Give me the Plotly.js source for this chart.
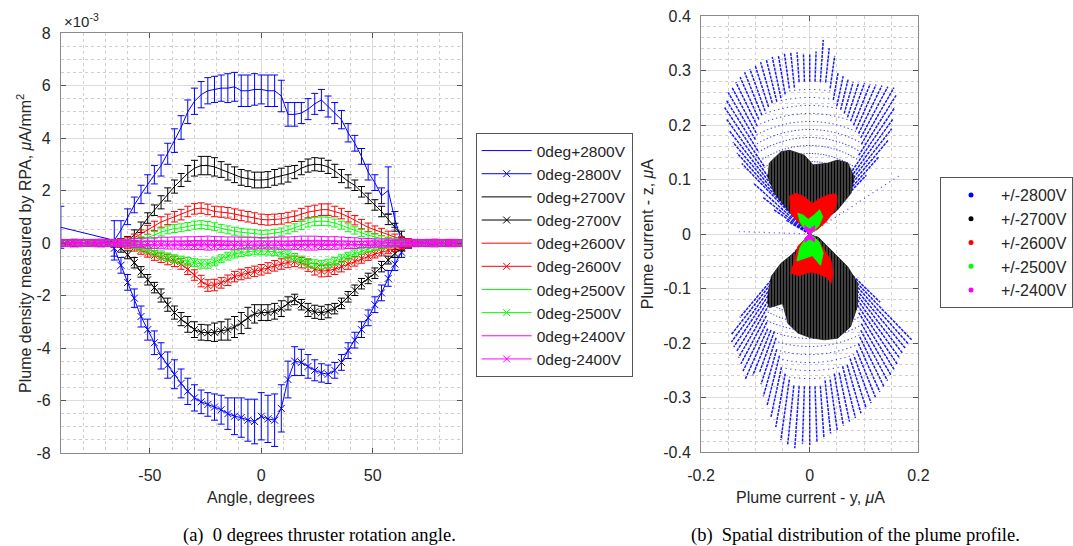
<!DOCTYPE html>
<html><head><meta charset="utf-8">
<script src="https://cdn.plot.ly/plotly-3.0.1.min.js"></script>
<style>html,body{margin:0;padding:0;background:#fff}#chart{width:1073px;height:546px}</style>
</head><body><div id="chart"></div>
<script>
// ---------------- Left panel data (values in units of 1e-3 uA/mm^2) ----------------
const angleDeg = [-90,-87,-84,-81,-78,-75,-72,-69,
  -66,-63,-60,-57,-54,-51,-48,-45,-42,-39,
  -36,-33,-30,-27,-24,-21,-18,-15,-12,-9,
  -6,-3,0,3,6,9,12,15,18,21,
  24,27,30,33,36,39,42,45,48,51,
  54,57,60,63,66,
  69,72,75,78,81,84,87,90];

const seriesNames = ['0deg+2800V','0deg-2800V','0deg+2700V','0deg-2700V','0deg+2600V','0deg-2600V','0deg+2500V','0deg-2500V','0deg+2400V','0deg-2400V'];

const pos2800 = [0.6,null,null,null,null,null,null,null,
  0.1,0.5,1.0,1.45,1.85,2.25,2.6,2.95,3.4,3.9,
  4.4,5.0,5.4,5.65,5.8,5.85,5.9,5.9,5.95,5.8,
  5.8,5.85,5.85,5.8,5.8,5.6,4.9,4.9,4.95,5.1,
  5.3,5.45,5.2,4.95,4.7,4.2,3.8,3.3,2.7,2.3,
  1.8,2.0,0.9,0.05,0.02,
  0.02,0.01,0.03,0.02,0.01,0.02,0.03,0.02];
const pos2800Err = [0.8,null,null,null,null,null,null,null,
  0.75,0.35,0.3,0.3,0.35,0.35,0.35,0.4,0.4,0.45,
  0.45,0.45,0.5,0.5,0.5,0.5,0.5,0.55,0.55,0.6,
  0.6,0.6,0.55,0.6,0.6,0.6,0.45,0.45,0.4,0.4,
  0.4,0.4,0.4,0.4,0.35,0.35,0.3,0.3,0.3,0.3,
  0.3,0.9,0.3,0.15,0.1,
  0.1,0.1,0.1,0.1,0.1,0.1,0.1,0.1];

const neg2800 = [-0.02,0.01,-0.03,0.0,-0.02,0.01,-0.01,-0.03,
  -0.2,-0.85,-1.5,-2.1,-2.8,-3.3,-3.8,-4.3,-4.65,-5.0,
  -5.35,-5.65,-5.9,-6.05,-6.15,-6.25,-6.35,-6.5,-6.6,-6.65,
  -6.75,-6.8,-6.6,-6.7,-6.75,-6.3,-5.2,-4.5,-4.55,-4.7,
  -4.85,-4.95,-5.0,-4.85,-4.55,-4.1,-3.7,-3.3,-2.85,-2.35,
  -1.9,-1.35,-0.8,-0.35,-0.1,
  -0.03,0.0,-0.02,0.01,-0.01,-0.02,0.0,-0.01];
const neg2800Err = [0.1,0.1,0.1,0.1,0.1,0.1,0.1,0.1,
  0.3,0.3,0.3,0.35,0.4,0.4,0.45,0.5,0.5,0.55,
  0.55,0.5,0.5,0.45,0.45,0.5,0.55,0.6,0.7,0.75,
  0.8,0.85,0.9,0.9,1.0,0.9,0.7,0.55,0.5,0.45,
  0.4,0.35,0.35,0.3,0.3,0.3,0.3,0.3,0.3,0.3,
  0.3,0.3,0.25,0.2,0.1,
  0.1,0.1,0.1,0.1,0.1,0.1,0.1,0.1];

const pos2700 = [0.02,0.0,0.03,0.01,0.02,0.0,0.01,0.02,
  0.0,0.02,0.1,0.3,0.6,0.95,1.25,1.55,1.85,2.15,
  2.4,2.65,2.85,2.95,2.95,2.9,2.8,2.7,2.6,2.5,
  2.45,2.4,2.4,2.42,2.5,2.55,2.62,2.7,2.85,2.95,
  3.0,2.98,2.9,2.75,2.55,2.35,2.2,1.95,1.7,1.45,
  1.2,0.9,0.6,0.3,0.05,
  0.02,0.01,0.0,0.02,0.01,0.03,0.01,0.02];
const pos2700Err = [0.1,0.1,0.1,0.1,0.1,0.1,0.1,0.1,
  0.1,0.15,0.15,0.2,0.2,0.2,0.2,0.25,0.25,0.25,
  0.25,0.3,0.3,0.35,0.35,0.35,0.3,0.3,0.3,0.3,
  0.3,0.3,0.3,0.3,0.3,0.3,0.3,0.25,0.25,0.25,
  0.25,0.25,0.25,0.25,0.25,0.25,0.2,0.2,0.2,0.2,
  0.2,0.2,0.15,0.15,0.1,
  0.1,0.1,0.1,0.1,0.1,0.1,0.1,0.1];

const neg2700 = [-0.01,0.01,-0.02,0.0,-0.01,0.02,-0.01,0.0,
  -0.05,-0.2,-0.45,-0.75,-1.1,-1.4,-1.7,-2.0,-2.35,-2.65,
  -2.9,-3.1,-3.3,-3.4,-3.42,-3.4,-3.35,-3.3,-3.2,-3.05,
  -2.85,-2.7,-2.65,-2.65,-2.6,-2.5,-2.3,-2.15,-2.35,-2.55,
  -2.62,-2.66,-2.6,-2.5,-2.3,-2.05,-1.8,-1.55,-1.35,-1.15,
  -0.9,-0.65,-0.4,-0.2,-0.05,
  0.0,-0.02,0.01,-0.01,0.0,-0.02,0.01,-0.01];
const neg2700Err = [0.1,0.1,0.1,0.1,0.1,0.1,0.1,0.1,
  0.1,0.15,0.15,0.2,0.2,0.2,0.2,0.25,0.25,0.25,
  0.25,0.3,0.3,0.3,0.3,0.35,0.35,0.4,0.4,0.4,
  0.4,0.35,0.3,0.3,0.3,0.3,0.25,0.2,0.2,0.25,
  0.25,0.25,0.25,0.2,0.2,0.2,0.2,0.2,0.2,0.2,
  0.2,0.15,0.15,0.1,0.1,
  0.1,0.1,0.1,0.1,0.1,0.1,0.1,0.1];

const pos2600 = [0.01,0.03,0.0,0.02,0.01,0.03,0.02,0.01,
  0.02,0.05,0.1,0.2,0.35,0.5,0.65,0.8,0.9,1.0,
  1.08,1.2,1.3,1.33,1.28,1.2,1.18,1.15,1.1,1.05,
  1.0,0.95,0.9,0.88,0.9,0.92,0.97,1.02,1.1,1.18,
  1.22,1.27,1.27,1.2,1.12,1.0,0.87,0.72,0.6,0.5,
  0.42,0.32,0.22,0.14,0.07,
  0.03,0.02,0.01,0.03,0.02,0.01,0.02,0.03];
const pos2600Err = [0.1,0.1,0.1,0.1,0.1,0.1,0.1,0.1,
  0.1,0.1,0.12,0.14,0.15,0.17,0.18,0.2,0.2,0.2,
  0.2,0.2,0.2,0.2,0.2,0.2,0.2,0.2,0.2,0.2,
  0.2,0.2,0.2,0.2,0.2,0.2,0.2,0.2,0.22,0.22,
  0.22,0.22,0.22,0.2,0.2,0.2,0.18,0.18,0.16,0.15,
  0.14,0.13,0.12,0.1,0.1,
  0.1,0.1,0.1,0.1,0.1,0.1,0.1,0.1];

const neg2600 = [-0.01,0.0,-0.02,0.01,-0.01,-0.02,0.0,-0.01,
  -0.02,-0.05,-0.1,-0.18,-0.28,-0.38,-0.48,-0.56,-0.63,-0.7,
  -0.8,-1.0,-1.22,-1.45,-1.62,-1.6,-1.52,-1.42,-1.28,-1.2,
  -1.14,-1.08,-1.02,-0.95,-0.87,-0.8,-0.74,-0.7,-0.75,-0.86,
  -1.0,-1.07,-1.05,-1.0,-0.9,-0.8,-0.7,-0.6,-0.5,-0.42,
  -0.35,-0.28,-0.2,-0.14,-0.08,
  -0.02,-0.01,0.0,-0.02,-0.01,0.01,-0.02,-0.01];
const neg2600Err = [0.1,0.1,0.1,0.1,0.1,0.1,0.1,0.1,
  0.1,0.1,0.12,0.13,0.15,0.16,0.18,0.18,0.2,0.2,
  0.2,0.2,0.2,0.22,0.22,0.22,0.2,0.2,0.2,0.2,
  0.2,0.2,0.2,0.2,0.2,0.2,0.2,0.2,0.2,0.22,
  0.22,0.22,0.22,0.2,0.2,0.2,0.18,0.17,0.16,0.15,
  0.14,0.13,0.12,0.1,0.1,
  0.1,0.1,0.1,0.1,0.1,0.1,0.1,0.1];

const pos2500 = [0.02,0.0,0.01,0.03,0.0,0.02,0.01,0.0,
  0.0,0.02,0.04,0.07,0.12,0.2,0.3,0.42,0.5,0.55,
  0.58,0.63,0.68,0.7,0.67,0.62,0.56,0.5,0.45,0.41,
  0.38,0.35,0.33,0.34,0.37,0.42,0.5,0.58,0.67,0.77,
  0.82,0.83,0.82,0.76,0.68,0.58,0.48,0.38,0.3,0.23,
  0.17,0.12,0.08,0.05,0.03,
  0.01,0.02,0.0,0.01,0.03,0.0,0.02,0.01];
const pos2500Err = [0.1,0.1,0.1,0.1,0.1,0.1,0.1,0.1,
  0.1,0.1,0.1,0.11,0.12,0.13,0.14,0.15,0.15,0.15,
  0.15,0.15,0.15,0.15,0.15,0.15,0.15,0.15,0.15,0.15,
  0.15,0.15,0.15,0.15,0.15,0.15,0.15,0.15,0.15,0.16,
  0.16,0.16,0.16,0.15,0.15,0.15,0.14,0.13,0.12,0.12,
  0.11,0.1,0.1,0.1,0.1,
  0.1,0.1,0.1,0.1,0.1,0.1,0.1,0.1];

const neg2500 = [0.0,-0.02,0.01,-0.01,0.0,-0.02,0.01,-0.01,
  0.0,-0.02,-0.05,-0.1,-0.17,-0.25,-0.35,-0.45,-0.53,-0.6,
  -0.65,-0.7,-0.75,-0.8,-0.8,-0.72,-0.6,-0.5,-0.42,-0.36,
  -0.32,-0.3,-0.3,-0.31,-0.33,-0.38,-0.45,-0.55,-0.65,-0.75,
  -0.8,-0.82,-0.78,-0.7,-0.6,-0.5,-0.4,-0.3,-0.22,-0.16,
  -0.12,-0.08,-0.05,-0.03,-0.01,
  0.0,-0.01,0.01,-0.02,0.0,-0.01,0.01,0.0];
const neg2500Err = [0.1,0.1,0.1,0.1,0.1,0.1,0.1,0.1,
  0.1,0.1,0.1,0.11,0.12,0.13,0.14,0.15,0.15,0.15,
  0.15,0.15,0.15,0.16,0.16,0.15,0.15,0.15,0.15,0.15,
  0.15,0.15,0.15,0.15,0.15,0.15,0.15,0.15,0.15,0.16,
  0.16,0.16,0.16,0.15,0.15,0.15,0.14,0.13,0.12,0.12,
  0.11,0.1,0.1,0.1,0.1,
  0.1,0.1,0.1,0.1,0.1,0.1,0.1,0.1];

const pos2400 = [0.02,0.01,0.03,0.02,0.0,0.02,0.03,0.01,
  0.02,0.03,0.03,0.04,0.05,0.05,0.06,0.07,0.07,0.08,
  0.08,0.09,0.09,0.1,0.1,0.09,0.09,0.08,0.08,0.07,
  0.07,0.07,0.06,0.07,0.07,0.08,0.08,0.09,0.1,0.1,
  0.1,0.1,0.09,0.09,0.08,0.07,0.06,0.05,0.04,0.04,
  0.03,0.03,0.02,0.02,0.02,
  0.02,0.01,0.02,0.03,0.01,0.02,0.02,0.01];
const pos2400Err = [0.12,0.12,0.12,0.12,0.12,0.12,0.12,0.12,
  0.12,0.12,0.12,0.13,0.13,0.14,0.14,0.15,0.15,0.15,
  0.15,0.15,0.15,0.15,0.16,0.16,0.15,0.15,0.15,0.15,
  0.15,0.15,0.15,0.15,0.15,0.15,0.15,0.15,0.16,0.16,
  0.16,0.15,0.15,0.15,0.15,0.14,0.14,0.13,0.13,0.12,
  0.12,0.12,0.12,0.12,0.12,
  0.12,0.12,0.12,0.12,0.12,0.12,0.12,0.12];

const neg2400 = [-0.02,-0.01,-0.03,-0.02,0.0,-0.02,-0.03,-0.01,
  -0.02,-0.03,-0.03,-0.04,-0.05,-0.06,-0.06,-0.07,-0.08,-0.08,
  -0.09,-0.09,-0.1,-0.1,-0.11,-0.1,-0.1,-0.09,-0.09,-0.08,
  -0.08,-0.08,-0.07,-0.08,-0.08,-0.09,-0.09,-0.1,-0.1,-0.11,
  -0.11,-0.1,-0.1,-0.09,-0.08,-0.07,-0.07,-0.06,-0.05,-0.04,
  -0.04,-0.03,-0.03,-0.02,-0.02,
  -0.02,-0.01,-0.02,-0.03,-0.01,-0.02,-0.02,-0.01];
const neg2400Err = [0.12,0.12,0.12,0.12,0.12,0.12,0.12,0.12,
  0.12,0.12,0.12,0.13,0.13,0.14,0.14,0.15,0.15,0.15,
  0.15,0.15,0.15,0.15,0.16,0.16,0.15,0.15,0.15,0.15,
  0.15,0.15,0.15,0.15,0.15,0.15,0.15,0.15,0.16,0.16,
  0.16,0.15,0.15,0.15,0.15,0.14,0.14,0.13,0.13,0.12,
  0.12,0.12,0.12,0.12,0.12,
  0.12,0.12,0.12,0.12,0.12,0.12,0.12,0.12];

// ---------------- Right panel data: plume current (uA) vs. direction ----------------
// angle measured from the +z axis (upper lobe) or -z axis (lower lobe), degrees; current in uA
const top2800Angle = [-60,-56,-52,-48,-44,-42,-40,-38,-36,-34,-32,-30,-28,-26,-24,-22,-20,-18,-16,-14,-12,-10,-8,-6,-4,-2,0,2,4,6,8,10,12,14,16,18,20,22,24,26,28,30,32,34,36,38,40,42,44,46];
const top2800Max = [0.05,0.08,0.11,0.14,0.18,0.2,0.22,0.24,0.26,0.28,0.29,0.30,0.305,0.31,0.315,0.32,0.322,0.325,0.328,0.33,0.332,0.333,0.334,0.335,0.334,0.332,0.33,0.335,0.357,0.343,0.33,0.30,0.296,0.293,0.29,0.292,0.295,0.297,0.30,0.303,0.306,0.31,0.30,0.28,0.26,0.245,0.225,0.19,0.15,0.08];
const top2800Min = [0,0,0,0,0,0,0.02,0.05,0.1,0.15,0.18,0.2,0.21,0.22,0.23,0.235,0.24,0.245,0.25,0.25,0.255,0.26,0.27,0.27,0.28,0.28,0.28,0.28,0.28,0.28,0.27,0.25,0.24,0.235,0.23,0.225,0.22,0.215,0.21,0.205,0.2,0.19,0.17,0.14,0.1,0.05,0.02,0,0,0];
const top2800SideAngle = [-88,57];
const top2800SideMax = [0.13,0.197];

const bot2800Angle = [-40,-38,-36,-34,-32,-30,-28,-26,-24,-22,-20,-18,-16,-14,-12,-10,-8,-6,-4,-2,0,2,4,6,8,10,12,14,16,18,20,22,24,26,28,30,32,34,36,38,40,42,44,46];
const bot2800Max = [0.2,0.235,0.245,0.25,0.255,0.262,0.27,0.28,0.292,0.28,0.27,0.29,0.31,0.325,0.343,0.36,0.382,0.39,0.394,0.385,0.387,0.382,0.376,0.368,0.364,0.357,0.352,0.348,0.342,0.336,0.33,0.323,0.317,0.312,0.305,0.3,0.295,0.288,0.282,0.278,0.275,0.272,0.27,0.18];
const bot2800Min = [0,0,0.05,0.1,0.13,0.15,0.17,0.18,0.19,0.19,0.19,0.2,0.22,0.23,0.25,0.26,0.27,0.28,0.28,0.28,0.28,0.28,0.28,0.27,0.27,0.26,0.26,0.25,0.25,0.24,0.24,0.23,0.22,0.21,0.2,0.19,0.17,0.15,0.12,0.08,0.04,0,0,0];

const top2700Angle = [0,-38.7,-42.3,-40.9,-36.3,-29.7,-19.3,-13.5,-3.9,2.7,14.2,20.6,28.3,38,45.4,49.2,46.4];
const top2700Cur = [0,0.026,0.059,0.099,0.130,0.150,0.160,0.158,0.145,0.127,0.134,0.145,0.148,0.133,0.107,0.067,0.029];
const bot2700Angle = [0,-37.2,-44.5,-42.3,-35.2,-31.2,-28.7,-21.3,-13.7,-6.9,0,7.9,15,23.8,33.5,44.4,49.4,53.4,71];
const bot2700Cur = [0,0.036,0.076,0.105,0.133,0.149,0.154,0.137,0.169,0.183,0.19,0.196,0.198,0.186,0.159,0.126,0.092,0.049,0.016];

const top2600Angle = [0,-45,-42.6,-33.2,-27.9,-18.4,-8.4,5.1,16.9,25.9,33,38.9,47,53.7,60];
const top2600Cur = [0,0.028,0.052,0.066,0.079,0.079,0.069,0.056,0.069,0.08,0.088,0.08,0.062,0.037,0.014];
const bot2600Angle = [0,-45,-43.7,-30.3,-25.9,-14.7,0,11.8,22.2,23.2,30.8,39.1,43,53.7];
const bot2600Cur = [0,0.017,0.032,0.056,0.08,0.079,0.07,0.074,0.087,0.099,0.084,0.062,0.04,0.019];

const top2500Angle = [0,-45,-39,-30,-19,-6,13,22.2,37,48.6,56];
const top2500Cur = [0,0.014,0.028,0.044,0.037,0.027,0.036,0.048,0.04,0.023,0.007];
const bot2500Angle = [0,-45,-35.8,-25.6,-12.5,7,19,35.5,50,60];
const bot2500Cur = [0,0.011,0.031,0.055,0.046,0.04,0.061,0.043,0.023,0.008];

const top2400Angle = [0,-50,-30,-10,10,30,50];
const top2400Cur = [0,0.012,0.018,0.01,0.01,0.018,0.012];
const bot2400Angle = [0,-50,-30,-10,10,30,50];
const bot2400Cur = [0,0.012,0.017,0.01,0.01,0.017,0.012];

const legend2Names = ['+/-2800V','+/-2700V','+/-2600V','+/-2500V','+/-2400V'];

// ---------------- helpers ----------------
const W = 1073, H = 546;
const px = v => v / W, py = v => 1 - v / H;
const FONT = '"Liberation Sans", Arial, Helvetica, sans-serif';
const SERIF = '"Liberation Serif", "Times New Roman", serif';
const TXT = '#262626';
const colors = ['#0000ff','#000000','#ff0000','#00ff00','#ff00ff'];
const RAD = Math.PI / 180;

function errTrace(name, y, e, color, neg) {
  return {
    type: 'scatter', mode: neg ? 'lines+markers' : 'lines', x: angleDeg, y: y, name: name,
    connectgaps: true, xaxis: 'x', yaxis: 'y', legend: 'legend',
    line: {color: color, width: 1},
    marker: {symbol: 'x-thin-open', size: 7, color: color, line: {color: color, width: 1}},
    error_y: {type: 'data', array: e, visible: true, color: color, thickness: 1, width: 3.5}
  };
}
function rays(ang, r0, r1, dir) {
  const x = [], y = [];
  for (let i = 0; i < ang.length; i++) {
    const a = Array.isArray(r0) ? r0[i] : r0;
    const s = Math.sin(ang[i] * RAD), c = Math.cos(ang[i] * RAD);
    x.push(a * s, r1[i] * s, null);
    y.push(dir * a * c, dir * r1[i] * c, null);
  }
  return {x, y};
}
function outline(ang, cur, dir) {
  return {x: ang.map((a, i) => cur[i] * Math.sin(a * RAD)), y: ang.map((a, i) => dir * cur[i] * Math.cos(a * RAD))};
}
function rayTrace(g, color, width, dash) {
  return {type: 'scatter', mode: 'lines', x: g.x, y: g.y, xaxis: 'x2', yaxis: 'y2', showlegend: false,
    hoverinfo: 'skip', line: {color: color, width: width, dash: dash || 'solid'}};
}
function blobTrace(g, color, pattern) {
  const t = {type: 'scatter', mode: 'lines', x: g.x, y: g.y, xaxis: 'x2', yaxis: 'y2', showlegend: false,
    hoverinfo: 'skip', fill: 'toself', fillcolor: color, line: {color: color, width: 0.8}};
  if (pattern) t.fillpattern = pattern;
  return t;
}

// ---------------- traces ----------------
const leftSeries = [[pos2800,pos2800Err],[neg2800,neg2800Err],[pos2700,pos2700Err],[neg2700,neg2700Err],
  [pos2600,pos2600Err],[neg2600,neg2600Err],[pos2500,pos2500Err],[neg2500,neg2500Err],[pos2400,pos2400Err],[neg2400,neg2400Err]];
const traces = leftSeries.map((s, i) => errTrace(seriesNames[i], s[0], s[1], colors[Math.floor(i / 2)], i % 2 === 1));

const blueSparse = 'rgba(30,30,255,0.85)';
const blueDense = 'rgba(0,0,255,0.9)';
traces.push(rayTrace(rays(top2800Angle, 0, top2800Min, 1), blueSparse, 1.3, '1px,7px'));
traces.push(rayTrace(rays(bot2800Angle, 0, bot2800Min, -1), blueSparse, 1.3, '1px,7px'));
traces.push(rayTrace(rays(top2800SideAngle, 0, top2800SideMax, 1), blueSparse, 1.2, '1px,4px'));
traces.push(rayTrace(rays(top2800Angle, top2800Min, top2800Max, 1), blueDense, 1.5, '3px,1px'));
traces.push(rayTrace(rays(bot2800Angle, bot2800Min, bot2800Max, -1), blueDense, 1.5, '3px,1px'));

const blackPattern = {shape: '|', fgcolor: '#000000', bgcolor: '#707070', size: 3, solidity: 0.62};
traces.push(blobTrace(outline(top2700Angle, top2700Cur, 1), '#1a1a1a', blackPattern));
traces.push(blobTrace(outline(bot2700Angle, bot2700Cur, -1), '#1a1a1a', blackPattern));
traces.push(blobTrace(outline(top2600Angle, top2600Cur, 1), '#ff0000'));
traces.push(blobTrace(outline(bot2600Angle, bot2600Cur, -1), '#ff0000'));
traces.push(blobTrace(outline(top2500Angle, top2500Cur, 1), '#00ff00'));
traces.push(blobTrace(outline(bot2500Angle, bot2500Cur, -1), '#00ff00'));
traces.push(blobTrace(outline(top2400Angle, top2400Cur, 1), '#ff00ff'));
traces.push(blobTrace(outline(bot2400Angle, bot2400Cur, -1), '#ff00ff'));

legend2Names.forEach((n, i) => traces.push({type: 'scatter', mode: 'markers', x: [null], y: [null], xaxis: 'x2', yaxis: 'y2',
  name: n, legend: 'legend2', marker: {color: colors[i], size: 5}}));

// ---------------- layout ----------------
function axisBase() {
  return {showline: true, linecolor: '#8a8a8a', linewidth: 1, mirror: 'ticks', ticks: 'inside', ticklen: 5,
    tickcolor: '#555555', showgrid: true, gridcolor: '#dcdcdc', gridwidth: 1, zeroline: false, automargin: false,
    tickfont: {family: FONT, size: 16, color: TXT}, fixedrange: true};
}
const yTicksL = [-8,-6,-4,-2,0,2,4,6,8];
const yTicksR = [-0.4,-0.3,-0.2,-0.1,0,0.1,0.2,0.3,0.4];

function note(text, x, y, size, extra) {
  return Object.assign({text: text, x: px(x), y: py(y), xref: 'paper', yref: 'paper', xanchor: 'center', yanchor: 'middle',
    showarrow: false, font: {family: FONT, size: size, color: TXT}}, extra || {});
}

const layout = {
  width: W, height: H, margin: {l: 0, r: 0, t: 0, b: 0, pad: 0},
  paper_bgcolor: '#ffffff', plot_bgcolor: '#ffffff', font: {family: FONT, color: TXT},
  xaxis: Object.assign(axisBase(), {domain: [px(61), px(463)], range: [-90, 90], anchor: 'y',
    tickvals: [-50, 0, 50], ticktext: ['-50', '0', '50'], ticklabelstandoff: 8,
    minor: {dtick: 10, tick0: 0, showgrid: true, griddash: 'dot', gridcolor: '#cfcfcf', ticks: ''}}),
  yaxis: Object.assign(axisBase(), {domain: [py(453), py(33)], range: [-8, 8], anchor: 'x',
    tickvals: yTicksL, ticktext: yTicksL.map(v => String(v)), ticklabelstandoff: 6,
    minor: {dtick: 0.5, tick0: 0, showgrid: true, griddash: 'dot', gridcolor: '#cfcfcf', ticks: ''}}),
  xaxis2: Object.assign(axisBase(), {domain: [px(703), px(921)], range: [-0.2, 0.2], anchor: 'y2',
    tickvals: [-0.2, 0, 0.2], ticktext: ['-0.2', '0', '0.2'], ticklabelstandoff: 9,
    minor: {dtick: 0.05, tick0: 0, showgrid: true, griddash: 'dot', gridcolor: '#cfcfcf', ticks: ''}}),
  yaxis2: Object.assign(axisBase(), {domain: [py(452), py(16)], range: [-0.4, 0.4], anchor: 'x2',
    tickvals: yTicksR, ticktext: yTicksR.map(v => String(v)), ticklabelstandoff: 6,
    minor: {dtick: 0.02, tick0: 0, showgrid: true, griddash: 'dot', gridcolor: '#cfcfcf', ticks: ''}}),
  legend: {x: px(477), y: py(133), xanchor: 'left', yanchor: 'top', bgcolor: '#ffffff', bordercolor: '#555555',
    borderwidth: 1, font: {family: FONT, size: 15.5, color: TXT}, itemwidth: 50, tracegroupgap: 0},
  legend2: {x: px(943), y: py(177), xanchor: 'left', yanchor: 'top', bgcolor: '#ffffff', bordercolor: '#555555',
    borderwidth: 1, font: {family: FONT, size: 16, color: TXT}, itemwidth: 50},
  showlegend: true,
  annotations: [
    note('\u00d710<sup>-3</sup>', 62, 21, 15, {xanchor: 'left'}),
    note('Plume density measured by RPA, <i>\u03bc</i>A/mm<sup>2</sup>', 24, 243, 16, {textangle: -90}),
    note('Angle, degrees', 262, 497, 16),
    note('Plume current - z, <i>\u03bc</i>A', 649, 234, 16, {textangle: -90}),
    note('Plume current - y, <i>\u03bc</i>A', 813, 497, 16),
    note('(a)&nbsp;&nbsp;0 degrees thruster rotation angle.', 320, 535, 18.5, {font: {family: SERIF, size: 18.5, color: '#000000'}}),
    note('(b)&nbsp;&nbsp;Spatial distribution of the plume profile.', 858, 535, 18.5, {font: {family: SERIF, size: 18.5, color: '#000000'}})
  ]
};

Plotly.newPlot('chart', traces, layout, {staticPlot: true, displayModeBar: false});
</script></body></html>
